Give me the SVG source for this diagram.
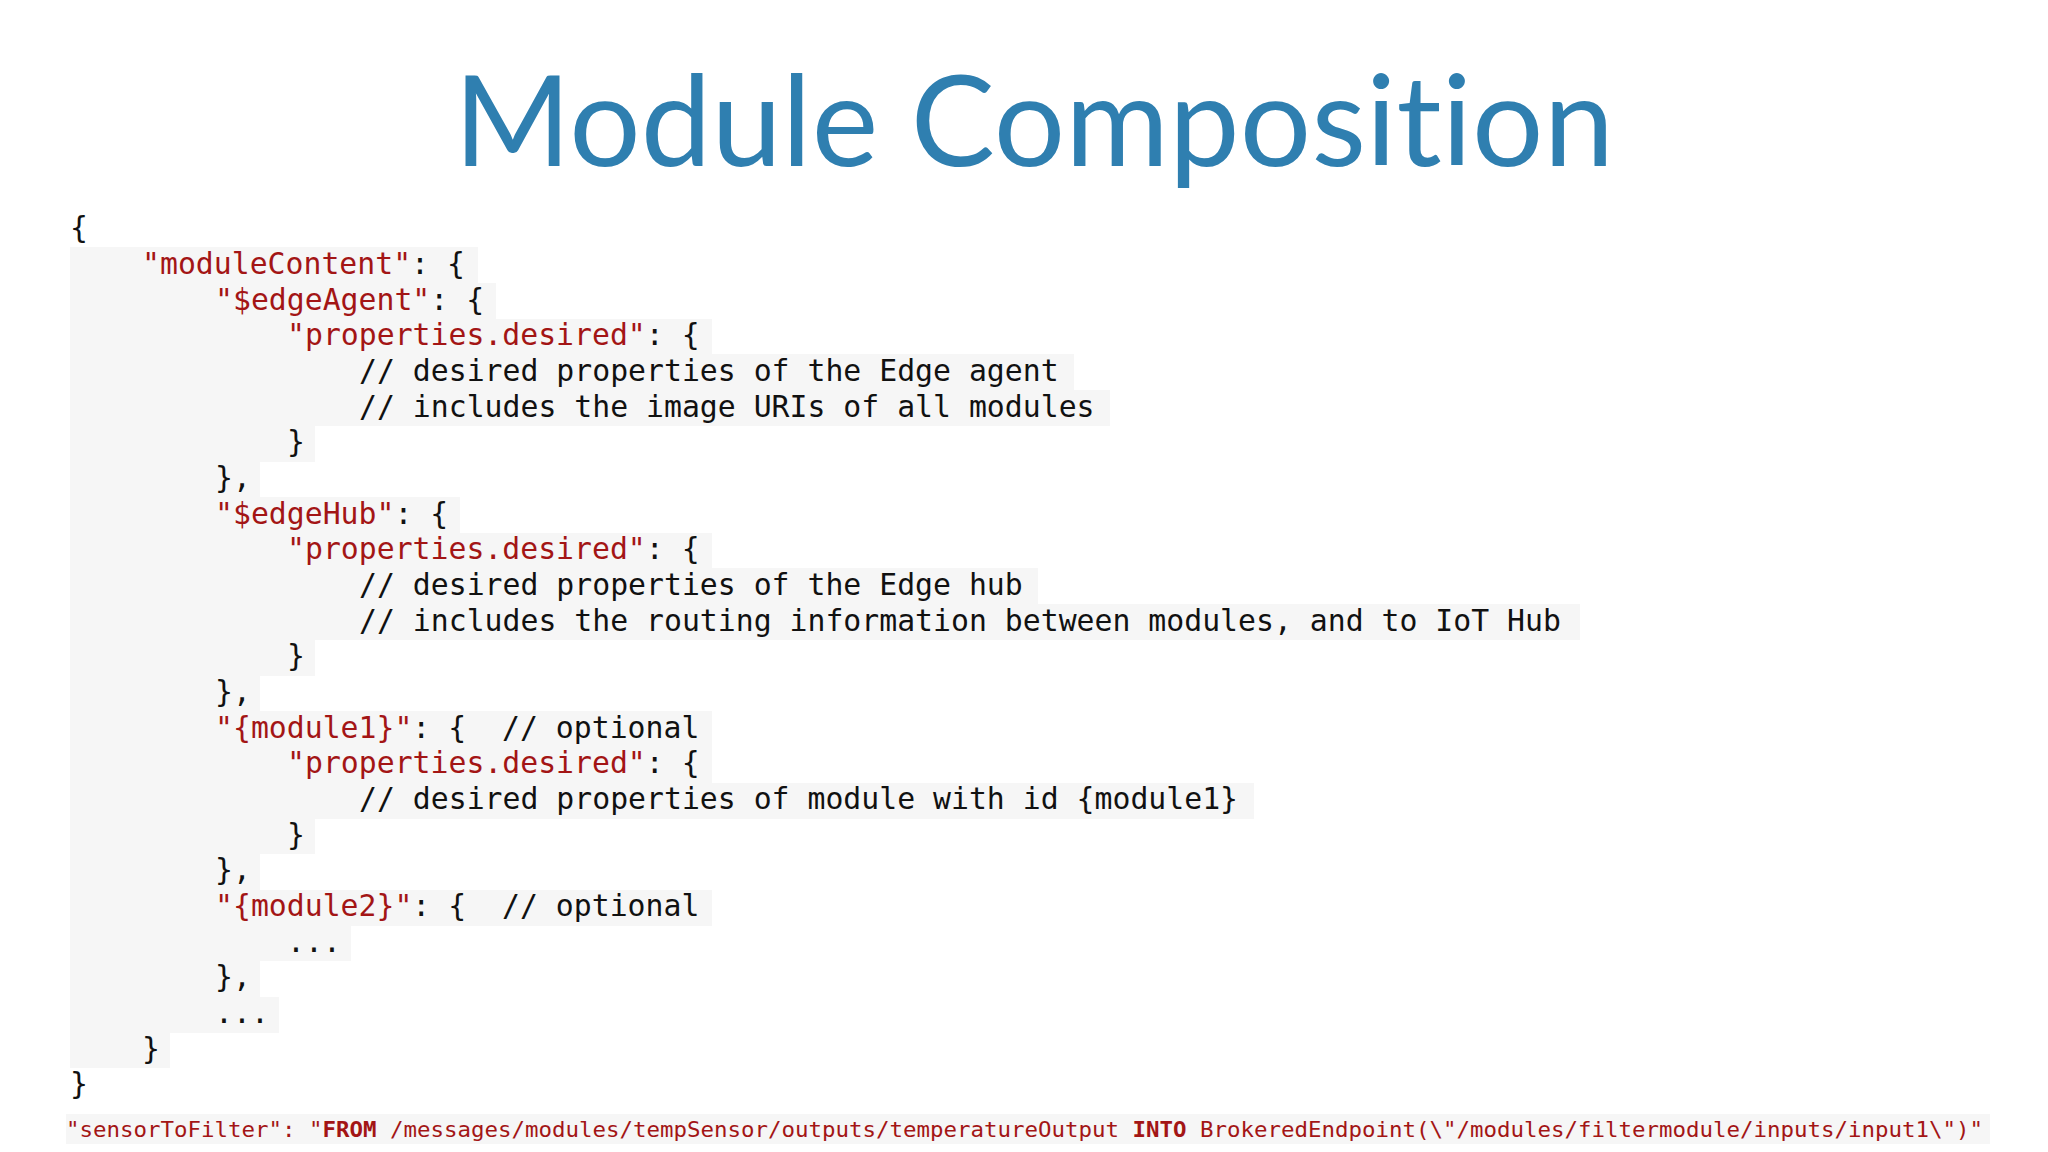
<svg xmlns="http://www.w3.org/2000/svg" width="2048" height="1152" viewBox="0 0 2048 1152">
<style>
.c{font-family:"DejaVu Sans Mono","Liberation Mono",monospace;font-size:29.8px;fill:#111;white-space:pre}
.k{fill:#a31515}
.b{font-size:22px}
.h{fill:#f6f6f6}
.t{font-family:Lato,"Noto Sans",sans-serif;font-size:126px;fill:#2f7fb0;font-variant-ligatures:none}
</style>
<rect width="2048" height="1152" fill="#fff"/>
<g id="title"><text class="t" x="1034" y="166" text-anchor="middle" textLength="1160">Module Composition</text></g>
<g id="shade" transform="translate(0,-6)">
<rect class="h" x="70" y="253" width="408" height="36"/>
<rect class="h" x="70" y="289" width="426" height="36"/>
<rect class="h" x="70" y="325" width="642" height="36"/>
<rect class="h" x="70" y="360" width="1004" height="36"/>
<rect class="h" x="70" y="396" width="1040" height="36"/>
<rect class="h" x="70" y="432" width="245" height="36"/>
<rect class="h" x="70" y="467" width="190" height="36"/>
<rect class="h" x="70" y="503" width="390" height="36"/>
<rect class="h" x="70" y="539" width="642" height="36"/>
<rect class="h" x="70" y="574" width="968" height="36"/>
<rect class="h" x="70" y="610" width="1510" height="36"/>
<rect class="h" x="70" y="646" width="245" height="36"/>
<rect class="h" x="70" y="682" width="190" height="36"/>
<rect class="h" x="70" y="717" width="642" height="36"/>
<rect class="h" x="70" y="753" width="642" height="36"/>
<rect class="h" x="70" y="789" width="1184" height="36"/>
<rect class="h" x="70" y="824" width="245" height="36"/>
<rect class="h" x="70" y="860" width="190" height="36"/>
<rect class="h" x="70" y="896" width="642" height="36"/>
<rect class="h" x="70" y="931" width="281" height="36"/>
<rect class="h" x="70" y="967" width="190" height="36"/>
<rect class="h" x="70" y="1003" width="209" height="36"/>
<rect class="h" x="70" y="1038" width="100" height="36"/>
</g>
<rect class="h" x="66" y="1114" width="1924" height="30"/>
<g id="code" class="c" transform="translate(0,-6)">
<text x="70" y="244">{</text>
<text x="142" y="280"><tspan class="k">"moduleContent"</tspan>: {</text>
<text x="215" y="316"><tspan class="k">"$edgeAgent"</tspan>: {</text>
<text x="287" y="351"><tspan class="k">"properties.desired"</tspan>: {</text>
<text x="359" y="387">// desired properties of the Edge agent</text>
<text x="359" y="423">// includes the image URIs of all modules</text>
<text x="287" y="458">}</text>
<text x="215" y="494">},</text>
<text x="215" y="530"><tspan class="k">"$edgeHub"</tspan>: {</text>
<text x="287" y="565"><tspan class="k">"properties.desired"</tspan>: {</text>
<text x="359" y="601">// desired properties of the Edge hub</text>
<text x="359" y="637">// includes the routing information between modules, and to IoT Hub</text>
<text x="287" y="672">}</text>
<text x="215" y="708">},</text>
<text x="215" y="744" xml:space="preserve"><tspan class="k">"{module1}"</tspan>: {  // optional</text>
<text x="287" y="779"><tspan class="k">"properties.desired"</tspan>: {</text>
<text x="359" y="815">// desired properties of module with id {module1}</text>
<text x="287" y="851">}</text>
<text x="215" y="886">},</text>
<text x="215" y="922" xml:space="preserve"><tspan class="k">"{module2}"</tspan>: {  // optional</text>
<text x="287" y="958">...</text>
<text x="215" y="993">},</text>
<text x="215" y="1029">...</text>
<text x="142" y="1065">}</text>
<text x="70" y="1100">}</text>
</g>
<g id="route" class="c">
<text class="b k" x="66" y="1137" textLength="1917" lengthAdjust="spacingAndGlyphs">"sensorToFilter": "<tspan font-weight="bold">FROM</tspan> /messages/modules/tempSensor/outputs/temperatureOutput <tspan font-weight="bold">INTO</tspan> BrokeredEndpoint(\"/modules/filtermodule/inputs/input1\")"</text>
</g>
</svg>
